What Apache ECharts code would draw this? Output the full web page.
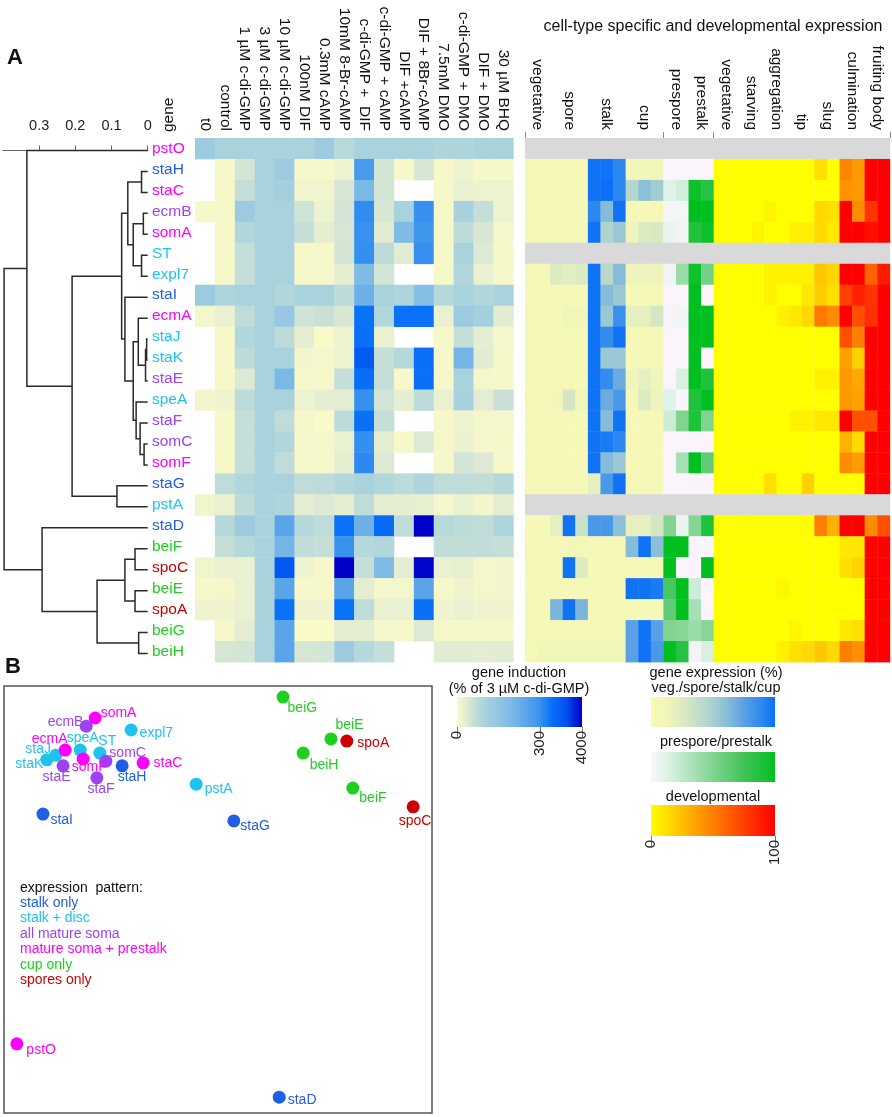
<!DOCTYPE html>
<html><head><meta charset="utf-8">
<script src="https://cdn.jsdelivr.net/npm/echarts@6/dist/echarts.min.js"></script>
<style>html,body{margin:0;padding:0;background:#fff}#c{width:892px;height:1117px}</style>
</head><body><div id="c"></div>
<script>
// ---------------- DATA ----------------
const genes = ['pstO','staH','staC','ecmB','somA','ST','expl7','staI','ecmA','staJ','staK','staE','speA','staF','somC','somF','staG','pstA','staD','beiF','spoC','beiE','spoA','beiG','beiH'];
const geneGroup = [3,0,3,2,3,1,1,0,3,1,1,2,1,2,2,3,0,1,0,4,5,4,5,4,4];
const groupNames = ['stalk only','stalk + disc','all mature soma','mature soma + prestalk','cup only','spores only'];

const treatments = ['t0','control','1 µM c-di-GMP','3 µM c-di-GMP','10 µM c-di-GMP','100nM DIF','0.3mM cAMP','10mM 8-Br-cAMP','c-di-GMP +  DIF','c-di-GMP + cAMP','DIF +cAMP','DIF + 8Br-cAMP','7.5mM DMO','c-di-GMP + DMO','DIF + DMO','30 µM BHQ'];

// gene induction, % of 3 µM c-di-GMP (null = not tested)
const induction = [
 [130,100,100,100,100,100,130,80,100,100,100,100,92,95,100,100],
 [null,5,50,100,130,5,5,20,280,50,5,45,5,20,5,5],
 [null,5,65,100,115,15,15,45,200,50,null,null,5,25,20,20],
 [5,5,130,100,100,55,20,50,350,45,100,320,5,105,65,20],
 [null,5,90,100,100,65,30,45,310,35,190,290,5,75,45,10],
 [null,5,65,100,100,5,5,50,330,75,35,320,5,100,40,5],
 [null,5,65,100,100,5,5,30,190,50,null,null,5,90,25,5],
 [130,95,100,100,90,100,100,75,220,100,95,175,85,100,90,100],
 [10,25,70,100,140,55,60,45,600,90,600,600,25,130,115,35],
 [null,5,90,100,75,30,0,20,650,25,null,null,5,65,30,10],
 [null,5,75,100,100,12,10,20,1200,65,85,650,5,210,35,5],
 [null,5,40,100,200,5,5,65,700,65,5,650,5,100,10,5],
 [12,18,75,100,100,20,30,32,320,52,30,75,25,105,32,60],
 [null,5,65,100,70,8,0,75,650,65,null,null,5,20,10,8],
 [null,5,65,100,90,5,5,25,330,32,5,40,5,22,8,5],
 [null,5,65,100,70,10,5,30,380,40,null,null,5,52,40,5],
 [null,70,90,100,100,70,75,90,100,90,75,95,70,70,68,85],
 [15,25,75,100,95,30,40,30,70,32,30,28,10,25,12,32],
 [null,85,130,100,250,85,70,600,220,800,70,4000,80,75,70,95],
 [null,65,85,100,210,68,65,310,85,90,null,null,68,68,68,65],
 [15,25,25,100,1300,20,5,4000,65,190,30,3800,25,28,8,12],
 [5,8,25,100,250,5,5,250,32,10,10,250,5,18,10,12],
 [18,18,25,100,600,18,18,600,70,25,25,650,18,25,18,18],
 [null,5,32,100,250,0,0,32,32,10,5,40,5,5,5,5],
 [null,48,50,100,250,48,50,130,85,65,null,null,35,35,32,35]
];

// cell-type specific and developmental expression (%), replicate columns
const exprLabels = ['vegetative','spore','stalk','cup','prespore','prestalk','vegetative','starving','aggregation','tip','slug','culmination','fruiting body'];
const exprReplicates = [2,3,3,3,2,2,2,2,2,2,2,2,2];
const exprScale = ['cell','cell','cell','cell','pp','pp','dev','dev','dev','dev','dev','dev','dev'];
const expression = [
 null,
 [5,5,5,5,5, 98,98,90, 10,10,10, 0,0,0,0, 0,0,0,0,0,0,0,0,12,0, 48,40,100,100],
 [5,5,5,5,5, 98,100,90, 45,60,52, 12,18,95,85, 0,0,0,0,0,0,0,0,0,0, 42,40,100,100],
 [5,5,5,5,5, 90,62,98, 5,5,5, 3,3,100,100, 0,0,0,0,4,0,0,0,15,12, 100,45,80,100],
 [5,5,8,8,8, 98,47,55, 15,25,27, 8,5,88,95, 0,0,0,4,0,0,6,6,15,9, 100,100,95,100],
 null,
 [5,5,25,22,25, 98,42,62, 15,15,15, 4,40,95,55, 0,0,0,0,5,5,5,5,22,17, 100,100,61,90],
 [5,5,5,5,5, 98,62,55, 5,5,5, 0,0,100,0, 0,0,0,0,5,0,0,9,20,12, 75,87,80,100],
 [5,5,5,12,12, 98,55,85, 20,20,30, 2,4,100,100, 0,0,0,0,0,6,9,15,52,45, 100,69,81,100],
 [5,5,5,5,5, 98,87,98, 5,5,5, 0,0,100,100, 0,0,0,0,0,0,0,0,0,0, 69,50,100,100],
 [5,5,5,5,5, 98,55,55, 5,5,5, 0,0,100,0, 0,0,0,0,0,0,0,0,0,0, 37,18,100,100],
 [5,5,5,5,5, 98,87,70, 12,20,12, 0,15,100,88, 0,0,0,0,0,0,0,0,5,5, 40,34,100,100],
 [5,5,10,30,12, 98,70,80, 5,25,15, 12,0,88,100, 0,0,0,0,0,0,0,0,0,0, 40,37,100,100],
 [5,5,5,5,5, 98,62,98, 5,5,5, 20,50,88,50, 0,0,0,0,0,0,5,5,9,9, 100,69,69,100],
 [5,5,5,5,5, 98,95,90, 5,5,5, 0,0,0,0, 0,0,0,0,0,0,0,0,0,0, 30,14,100,100],
 [5,5,5,5,5, 98,62,55, 5,5,5, 0,35,100,62, 0,0,0,0,0,0,0,0,0,0, 45,39,100,100],
 [5,5,5,5,5, 20,80,98, 5,5,5, 0,0,0,0, 0,0,0,0,12,0,0,18,0,0, 0,0,100,100],
 null,
 [5,5,20,98,35, 80,80,60, 20,20,30, 50,8,48,88, 0,0,0,0,0,0,0,0,50,31, 100,100,45,69],
 [8,8,8,8,8, 8,8,8, 62,98,60, 100,100,0,0, 0,0,0,0,0,0,0,0,0,0, 9,9,100,100],
 [5,5,5,98,25, 5,5,5, 5,5,5, 100,0,0,100, 0,0,0,0,0,0,0,0,0,0, 12,17,100,100],
 [5,5,5,5,5, 5,5,5, 98,98,95, 72,100,20,0, 0,0,0,0,0,3,0,0,0,0, 0,0,100,100],
 [5,5,65,98,65, 5,5,5, 5,5,5, 62,100,35,0, 0,0,0,0,0,0,0,0,0,0, 0,0,100,100],
 [5,5,8,8,8, 8,8,8, 75,98,75, 50,47,40,47, 0,0,0,0,0,0,3,0,0,0, 9,12,100,100],
 [5,12,12,12,12, 12,12,12, 75,98,80, 100,85,4,15, 0,0,0,0,0,6,12,15,22,15, 50,43,100,100]
];

// hierarchical clustering: [child, child, height]; '#k' = k-th merge
const merges = [
 ['staH','staC',0.017], ['ecmB','somA',0.012], ['ST','expl7',0.017], ['#1','#2',0.040],
 ['#0','#3',0.055], ['staJ','staK',0.003], ['#5','staE',0.006], ['ecmA','#6',0.026],
 ['somC','somF',0.010], ['staF','#8',0.021], ['speA','#9',0.032], ['#7','#10',0.040],
 ['staI','#11',0.063], ['#4','#12',0.072], ['staG','pstA',0.085], ['#13','#14',0.209],
 ['pstO','#15',0.334], ['beiF','spoC',0.035], ['beiE','spoA',0.035], ['#17','#18',0.063],
 ['beiG','beiH',0.025], ['#19','#20',0.140], ['staD','#21',0.292], ['#16','#22',0.397]
];
const distTicks = [0, 0.1, 0.2, 0.3];

// panel B ordination coordinates
const mdsX = [3.0,27.6,32.5,19.2,21.3,22.4,29.7,9.1,14.3,12.1,10.0,13.8,17.8,21.7,23.8,18.5,53.7,44.9,64.3,81.5,95.6,76.4,80.1,65.2,69.9];
const mdsY = [16.2,81.3,82.0,90.6,92.5,84.3,89.7,70.0,85.0,83.8,82.7,81.3,85.0,78.5,82.4,82.9,68.4,77.0,3.7,76.1,71.7,87.6,87.1,97.4,84.3];

const inductionTicks = [0, 300, 4000];
const expressionTicks = [0, 100];

// ---------------- STYLE ----------------
const FONT = "'Liberation Sans', Arial, Helvetica, sans-serif";
const groupColors = ['#1f5fe6','#1fc3f0','#9d42f2','#ff00ff','#1fcf1f','#cc0000'];
const labelOffset = {
 beiG:[-2,11], beiE:[-2,-14], spoA:[4,2], beiH:[0,12], beiF:[0,10], spoC:[-21,14],
 somA:[-1,-5], ecmB:[-45,-4], expl7:[2,3], ecmA:[-40,-11], speA:[-20,-12], ST:[-8,-12],
 staJ:[-37,-6], staK:[-38,4], somF:[-18,8], somC:[-3,-8], staE:[-27,11], staF:[-16,11],
 staH:[-11,11], staC:[4,0], pstA:[2,5], staI:[1,6], staG:[0,5], pstO:[3,6], staD:[2,3]
};
const inductionStops = [[0,'#fafac8'],[20,'#eef3cf'],[40,'#dde9d3'],[70,'#c0dcd8'],[100,'#a9d3dc'],[150,'#94c5e2'],[200,'#7ab8e6'],[300,'#3a92ee'],[600,'#0a72f8'],[1500,'#0050ee'],[4000,'#0000c8']];
const cellStops = [[0,'#fafab4'],[15,'#eef4bc'],[30,'#d4e6c4'],[45,'#b4d6cc'],[60,'#8cc0d8'],[75,'#5aa0e4'],[90,'#2a88f0'],[100,'#0a6ef8']];
const ppStops = [[0,'#fcf4fc'],[10,'#e4f4ec'],[25,'#c0e8cc'],[50,'#80d490'],[75,'#40c458'],[100,'#00c020']];
const devStops = [[0,'#ffff00'],[100,'#ff0000']];
const NA_COLOR = '#d9d9d9';

function hexToRgb(h){h=h.replace('#','');return [0,2,4].map(i=>parseInt(h.substr(i,2),16));}
function makeScale(stops){
  const s = stops.map(([v,c])=>[v,hexToRgb(c)]);
  const f = c => 'rgb(' + c.map(x=>Math.round(x)).join(',') + ')';
  return v => {
    if (v <= s[0][0]) return f(s[0][1]);
    for (let i=1;i<s.length;i++){
      if (v <= s[i][0]) {
        const t = (v - s[i-1][0])/(s[i][0]-s[i-1][0]);
        return f(s[i-1][1].map((a,j)=>a+(s[i][1][j]-a)*t));
      }
    }
    return f(s[s.length-1][1]);
  };
}
const scales = {ind: makeScale(inductionStops), cell: makeScale(cellStops), pp: makeScale(ppStops), dev: makeScale(devStops)};
// colour-bar position of an induction value (linear to 300, log above)
function indPos(v){ return v <= 300 ? 0.664*v/300 : 0.664 + 0.336*Math.log(v/300)/Math.log(4000/300); }
const pctPos = v => v/100;

// ---------------- DERIVED ----------------
const h1data = [];
induction.forEach((row,r)=>row.forEach((v,c)=>{ if (v!==null) h1data.push([c,r,v]); }));

const colScale = [], labelPos = [], bounds = [0];
let acc = 0;
exprReplicates.forEach((n,g)=>{
  for (let k=0;k<n;k++) colScale.push(exprScale[g]);
  labelPos.push(acc + n/2); acc += n;
  if (g < exprScale.length-1 && exprScale[g+1] !== exprScale[g]) bounds.push(acc);
});
bounds.push(acc);
const nCols = acc;
const h2data = [];
expression.forEach((row,r)=>{
  if (row === null) { h2data.push([0, r, -1, nCols]); return; }
  row.forEach((v,k)=> h2data.push([k, r, v, k+1]));
});

const nodeY = {}, nodeH = {};
genes.forEach((g,i)=>{ nodeY[g]=i; nodeH[g]=0; });
const dendroData = merges.map(([a,b,h],k)=>{
  const d = [nodeH[a], nodeY[a], nodeH[b], nodeY[b], h];
  nodeY['#'+k] = (nodeY[a]+nodeY[b])/2; nodeH['#'+k] = h;
  return d;
});

const colorOfGene = {};
genes.forEach((g,i)=>colorOfGene[g]=groupColors[geneGroup[i]]);

// ---------------- CHART ----------------
const chart = echarts.init(document.getElementById('c'), null, {renderer:'canvas'});

function gradientBar(stops, posFn){
  return {type:'linear', x:0, y:0, x2:1, y2:0,
    colorStops: stops.map(([v,c])=>({offset: posFn(v), color: c}))};
}
function barSeries(gi, fill){
  return {type:'custom', xAxisIndex:gi, yAxisIndex:gi, silent:true, data:[[0,0,1,1]],
    renderItem:(p,api)=>{
      const a = api.coord([0,0]), b = api.coord([1,1]);
      return {type:'rect', shape:{x:a[0], y:b[1], width:b[0]-a[0], height:a[1]-b[1]}, style:{fill}};
    }};
}
function tickAxis(gi, ticks, posFn){
  const pos = ticks.map(posFn);
  return {gridIndex:gi, type:'value', min:0, max:1, position:'bottom',
    axisLine:{show:false},
    axisTick:{show:true, customValues:pos, length:10, lineStyle:{color:'#777'}},
    axisLabel:{customValues:pos, rotate:90, fontSize:15, color:'#222', margin:4, fontFamily:FONT,
      formatter:v=>{ const i = pos.findIndex(p=>Math.abs(p-v)<1e-6); return i>=0 ? String(ticks[i]) : ''; }},
    splitLine:{show:false}};
}
const hiddenVal = (gi, min, max) => ({gridIndex:gi, type:'value', min, max, show:false});

const option = {
  animation:false,
  textStyle:{fontFamily:FONT},
  grid:[
    {left:3, top:140, width:144.7, height:524},
    {left:195, top:138, width:318.3, height:524},
    {left:525, top:138, width:364.8, height:524},
    {left:4, top:686, width:428, height:427, show:true, borderColor:'#555', borderWidth:1.5, backgroundColor:'transparent'},
    {left:457, top:697, width:125, height:30},
    {left:651, top:697, width:124, height:30},
    {left:651, top:752, width:124, height:30},
    {left:651, top:805, width:124, height:31}
  ],
  xAxis:[
    {gridIndex:0, type:'value', min:0, max:0.4, inverse:true, position:'top', offset:2,
     axisLine:{show:true, lineStyle:{color:'#666', width:1}},
     axisTick:{show:true, customValues:distTicks, length:5, lineStyle:{color:'#666'}},
     axisLabel:{customValues:distTicks, formatter:v=> v===0 ? '0' : v.toFixed(1), fontSize:14.5, color:'#222', margin:5, fontFamily:FONT},
     splitLine:{show:false}},
    {gridIndex:1, type:'category', data:treatments, position:'top',
     axisLine:{show:false}, axisTick:{show:false},
     axisLabel:{rotate:90, interval:0, fontSize:15.5, color:'#111', margin:7, fontFamily:FONT}},
    {gridIndex:2, type:'value', min:0, max:nCols, position:'top',
     axisLine:{show:false},
     axisTick:{show:true, customValues:bounds, length:6, lineStyle:{color:'#888'}},
     axisLabel:{customValues:labelPos, rotate:90, fontSize:15.5, color:'#111', margin:8, fontFamily:FONT,
       formatter:v=>{ const i = labelPos.findIndex(p=>Math.abs(p-v)<1e-6); return i>=0 ? exprLabels[i] : ''; }},
     splitLine:{show:false}},
    hiddenVal(3,0,100),
    tickAxis(4, inductionTicks, indPos),
    hiddenVal(5,0,1),
    hiddenVal(6,0,1),
    tickAxis(7, expressionTicks, pctPos)
  ],
  yAxis:[
    {gridIndex:0, type:'value', min:-0.5, max:genes.length-0.5, inverse:true, show:false},
    {gridIndex:1, type:'category', data:genes, inverse:true,
     axisLine:{show:false}, axisTick:{show:false},
     axisLabel:{align:'left', margin:43, fontSize:15.5, fontFamily:FONT, padding:[6,0,0,0],
       color:(v)=>colorOfGene[v] || '#000'}},
    {gridIndex:2, type:'category', data:genes, inverse:true, show:false},
    hiddenVal(3,0,100),
    hiddenVal(4,0,1),
    hiddenVal(5,0,1),
    hiddenVal(6,0,1),
    hiddenVal(7,0,1)
  ],
  legend:{
    left:10, top:890, orient:'vertical', selectedMode:false, itemWidth:0, itemHeight:15.5, itemGap:0,
    data: groupNames.map((n,i)=>({name:n, icon:'none', textStyle:{color:groupColors[i]}})),
    textStyle:{fontSize:14, fontFamily:FONT, lineHeight:15.5}
  },
  graphic:[
    {type:'text', left:7, top:47, style:{text:'A', font:'bold 22px '+FONT, fill:'#111'}},
    {type:'text', left:5, top:656, style:{text:'B', font:'bold 22px '+FONT, fill:'#111'}},
    {type:'text', x:713, y:27, style:{text:'cell-type specific and developmental expression', font:'16px '+FONT, fill:'#111', textAlign:'center', textVerticalAlign:'middle'}},
    {type:'text', x:169, y:132, rotation:Math.PI/2, style:{text:'gene', font:'15.5px '+FONT, fill:'#111', textAlign:'left', textVerticalAlign:'middle'}},
    {type:'text', x:519, y:673, style:{text:'gene induction', font:'14.5px '+FONT, fill:'#111', textAlign:'center', textVerticalAlign:'middle'}},
    {type:'text', x:519, y:689, style:{text:'(% of 3 µM c-di-GMP)', font:'14.5px '+FONT, fill:'#111', textAlign:'center', textVerticalAlign:'middle'}},
    {type:'text', x:716, y:673, style:{text:'gene expression (%)', font:'14.5px '+FONT, fill:'#111', textAlign:'center', textVerticalAlign:'middle'}},
    {type:'text', x:716, y:688, style:{text:'veg./spore/stalk/cup', font:'14.5px '+FONT, fill:'#111', textAlign:'center', textVerticalAlign:'middle'}},
    {type:'text', x:716, y:742, style:{text:'prespore/prestalk', font:'14.5px '+FONT, fill:'#111', textAlign:'center', textVerticalAlign:'middle'}},
    {type:'text', x:713, y:797, style:{text:'developmental', font:'14.5px '+FONT, fill:'#111', textAlign:'center', textVerticalAlign:'middle'}},
    {type:'text', x:20, y:888, style:{text:'expression  pattern:', font:'14px '+FONT, fill:'#111', textAlign:'left', textVerticalAlign:'middle'}}
  ],
  series:[
    {type:'custom', xAxisIndex:0, yAxisIndex:0, silent:true, clip:false, data:dendroData,
     encode:{x:[0,2,4], y:[1,3]},
     renderItem:(p,api)=>{
       const ha=api.value(0), ya=api.value(1), hb=api.value(2), yb=api.value(3), h=api.value(4);
       return {type:'polyline', shape:{points:[api.coord([ha,ya]),api.coord([h,ya]),api.coord([h,yb]),api.coord([hb,yb])]},
               style:{stroke:'#2a2a2a', lineWidth:1.5, fill:null}};
     }},
    {type:'custom', xAxisIndex:1, yAxisIndex:1, silent:true, data:h1data, encode:{x:0, y:1},
     renderItem:(p,api)=>{
       const c = api.coord([api.value(0), api.value(1)]), s = api.size([1,1]);
       return {type:'rect', shape:{x:c[0]-s[0]/2, y:c[1]-s[1]/2, width:s[0]+0.4, height:s[1]+0.4},
               style:{fill: scales.ind(api.value(2))}};
     }},
    {type:'custom', xAxisIndex:2, yAxisIndex:2, silent:true, data:h2data, encode:{x:[0,3], y:1},
     renderItem:(p,api)=>{
       const k = api.value(0), r = api.value(1), v = api.value(2), k2 = api.value(3);
       const a = api.coord([k, r]), b = api.coord([k2, r]), h = api.size([1,1])[1];
       const fill = v < 0 ? NA_COLOR : scales[colScale[k]](v);
       return {type:'rect', shape:{x:a[0], y:a[1]-h/2, width:b[0]-a[0]+0.4, height:h+0.4}, style:{fill}};
     }},
    ...groupNames.map((gname,gi)=>({
      type:'scatter', name:gname, xAxisIndex:3, yAxisIndex:3, symbolSize:13, silent:true,
      itemStyle:{color:groupColors[gi], opacity:1},
      label:{show:true, formatter:'{b}', position:'right', distance:0, fontSize:14, fontFamily:FONT, color:groupColors[gi]},
      data: genes.map((g,i)=>i).filter(i=>geneGroup[i]===gi).map(i=>({name:genes[i], value:[mdsX[i], mdsY[i]], label:{offset:labelOffset[genes[i]]}}))
    })),
    barSeries(4, gradientBar(inductionStops, indPos)),
    barSeries(5, gradientBar(cellStops, pctPos)),
    barSeries(6, gradientBar(ppStops, pctPos)),
    barSeries(7, gradientBar(devStops, pctPos))
  ]
};
chart.setOption(option);
</script>
</body></html>
